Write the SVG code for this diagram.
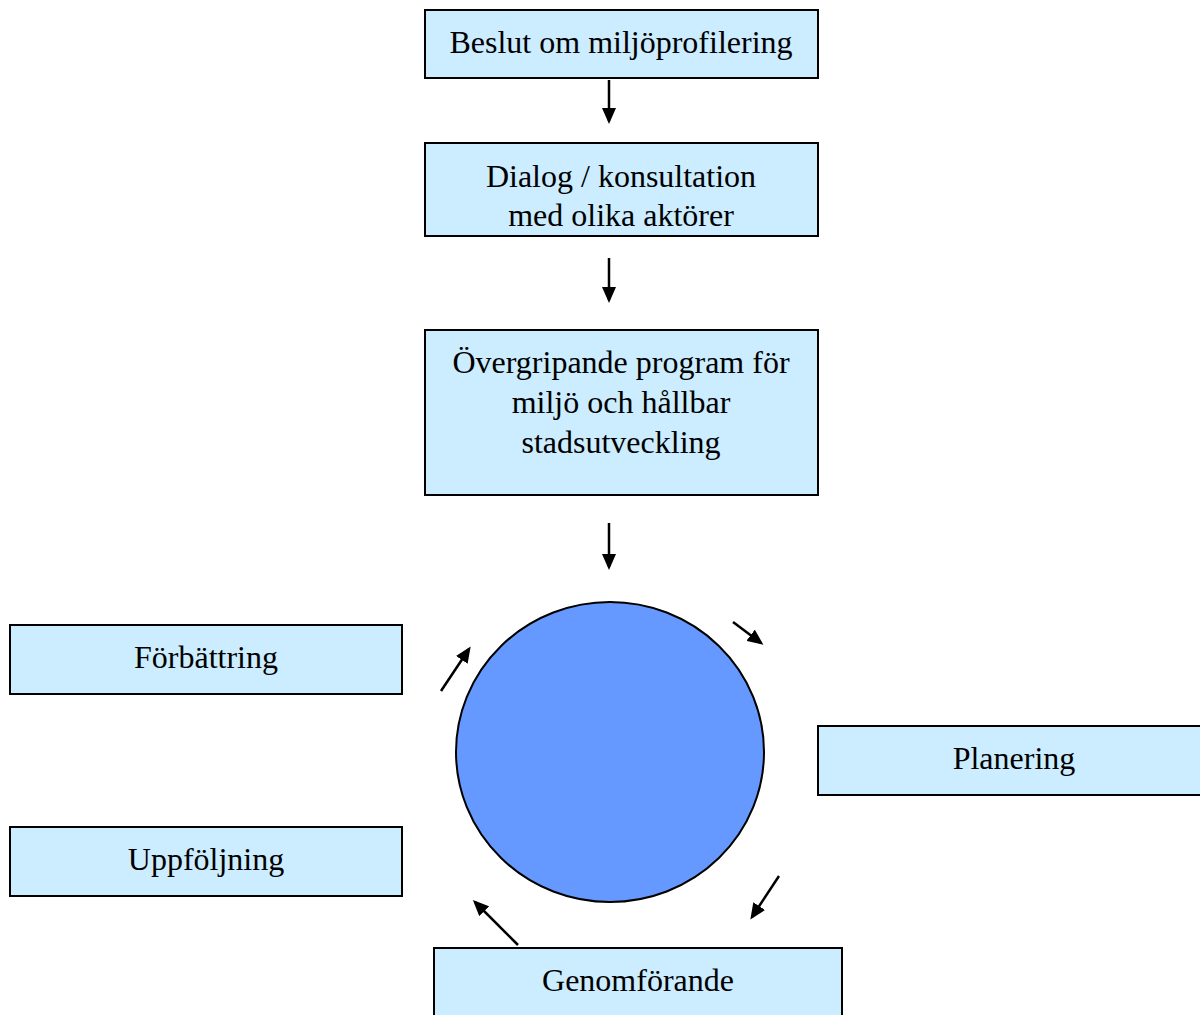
<svg xmlns="http://www.w3.org/2000/svg" width="1200" height="1015" viewBox="0 0 1200 1015">
<style>
.box{fill:#CCECFF;stroke:#000;stroke-width:2}
.t{font-family:"Liberation Serif","Times New Roman",serif;font-size:32px;fill:#000;text-anchor:middle}
.c{stroke:#000;stroke-width:2.5;fill:none;marker-end:url(#ah)}
</style>
<defs>
<marker id="ah" viewBox="0 0 16 14" refX="13" refY="7" markerWidth="16" markerHeight="14" markerUnits="userSpaceOnUse" orient="auto">
<path d="M0,0 L16,7 L0,14 z" fill="#000"/>
</marker>
</defs>
<rect width="1200" height="1015" fill="#fff"/>
<g id="beslut"><rect class="box" x="425" y="10" width="393" height="68"/><text class="t" x="621" y="53">Beslut om miljöprofilering</text></g>
<g id="dialog"><rect class="box" x="425" y="143" width="393" height="93"/><text class="t" x="621" y="187">Dialog / konsultation</text><text class="t" x="621" y="226">med olika aktörer</text></g>
<g id="program"><rect class="box" x="425" y="330" width="393" height="165"/><text class="t" x="621" y="373">Övergripande program för</text><text class="t" x="621" y="413">miljö och hållbar</text><text class="t" x="621" y="453">stadsutveckling</text></g>
<g id="cirkel"><ellipse cx="610" cy="752" rx="154" ry="150" fill="#6699FF" stroke="#000" stroke-width="2"/></g>
<g id="forbattring"><rect class="box" x="10" y="625" width="392" height="69"/><text class="t" x="206" y="668">Förbättring</text></g>
<g id="uppfoljning"><rect class="box" x="10" y="827" width="392" height="69"/><text class="t" x="206" y="870">Uppföljning</text></g>
<g id="planering"><rect class="box" x="818" y="726" width="392" height="69"/><text class="t" x="1014" y="769">Planering</text></g>
<g id="genomforande"><rect class="box" x="434" y="948" width="408" height="80"/><text class="t" x="638" y="991">Genomförande</text></g>
<g id="connectors">
<line class="c" x1="609" y1="80" x2="609" y2="121"/>
<line class="c" x1="609" y1="258" x2="609" y2="300"/>
<line class="c" x1="609" y1="523" x2="609" y2="567"/>
<line class="c" x1="733" y1="622" x2="761" y2="643"/>
<line class="c" x1="779" y1="876" x2="752" y2="917"/>
<line class="c" x1="518" y1="945" x2="475" y2="902"/>
<line class="c" x1="441" y1="691" x2="469" y2="649"/>
</g>
</svg>
